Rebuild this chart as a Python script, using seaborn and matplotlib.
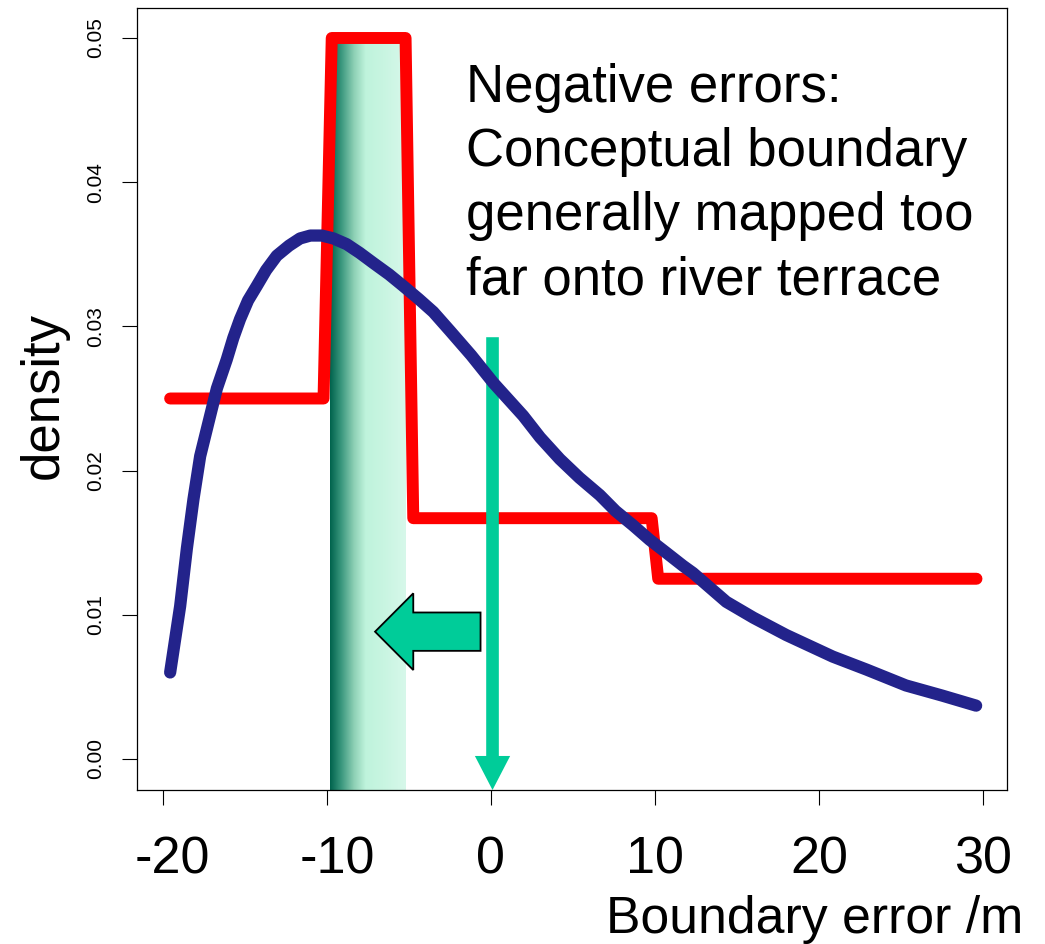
import numpy as np
import pandas as pd
import matplotlib
matplotlib.use("Agg")
import matplotlib.pyplot as plt
import matplotlib.transforms as mtrans
from matplotlib.colors import LinearSegmentedColormap
import seaborn as sns

# ---------------- data ----------------
blue_x = [-19.55, -18.94, -18.53, -18.13, -17.72, -17.2, -16.7, -16.1, -15.7,
          -15.29, -14.8, -14.27, -13.7, -13.05, -12.3, -11.63, -11.0, -10.31,
          -9.6, -8.79, -8.0, -7.17, -6.2, -5.34, -4.4, -3.51, -2.5, -1.2,
          0.14, 1.97, 3.0, 4.2, 5.4, 6.64, 7.6, 8.67, 9.68, 10.7, 11.71, 12.32,
          14.35, 16.0, 18.0, 20.84, 22.9, 25.3, 27.5, 29.58]
blue_y = [0.0060, 0.0106, 0.0146, 0.0180, 0.0210, 0.0234, 0.0257, 0.0277, 0.0292,
          0.0305, 0.0318, 0.0328, 0.0339, 0.0349, 0.0356, 0.0361, 0.0363, 0.0363,
          0.0361, 0.0357, 0.0351, 0.0344, 0.0336, 0.0328, 0.0319, 0.0310, 0.0297,
          0.0280, 0.0261, 0.0238, 0.0223, 0.0208, 0.0195, 0.0183, 0.0172, 0.0162,
          0.0152, 0.0143, 0.0134, 0.0129, 0.0109, 0.0098, 0.0086, 0.0071, 0.0062,
          0.0051, 0.0044, 0.0037]

red_x = [-19.55, -10.2, -9.7, -5.2, -4.73, 9.8, 10.2, 29.6]
red_y = [0.025, 0.025, 0.05, 0.05, 0.0167, 0.0167, 0.0125, 0.0125]

band_x = [-9.8, -5.18]          # shaded interval
shift_x = [-0.63, -7.06]        # block arrow: tail end -> tip
zero_x = 0.1                    # vertical arrow position
zero_top = 0.02925

x_ticks = [-20, -10, 0, 10, 20, 30]
x_tick_labels = ["-20", "-10", "0", "10", "20", "30"]
y_ticks = [0.00, 0.01, 0.02, 0.03, 0.04, 0.05]
y_tick_labels = ["0.00", "0.01", "0.02", "0.03", "0.04", "0.05"]

x_label = "Boundary error /m"
y_label = "density"
note = ("Negative errors:\nConceptual boundary\n"
        "generally mapped too\nfar onto river terrace")

# ---------------- style ----------------
sns.set_theme(style="white")
plt.rcParams["font.family"] = ["Liberation Sans", "DejaVu Sans"]

W, H = 1045, 944
fig = plt.figure(figsize=(W / 100, H / 100), dpi=100)
ax = fig.add_axes([137 / W, 1 - 790 / H, 870 / W, 782 / H])
XLIM = (-21.57, 31.46)
YLIM = (-0.00215, 0.05208)

# gradient band
band_cmap = LinearSegmentedColormap.from_list(
    "band", [(0.0, "#00634d"), (0.15, "#3b987e"), (0.32, "#8fd1b6"),
             (0.47, "#bff3dc"), (0.7, "#c8f5e1"), (1.0, "#d7f8ea")])
grad = np.linspace(0, 1, 256).reshape(1, -1)
ax.imshow(grad, extent=[band_x[0], band_x[1], YLIM[0], 0.05], aspect="auto",
          cmap=band_cmap, interpolation="bilinear", zorder=1)

# red step density
red_df = pd.DataFrame({"x": red_x, "y": red_y})
sns.lineplot(data=red_df, x="x", y="y", sort=False, estimator=None, ax=ax,
             color="#ff0000", linewidth=8.6, solid_capstyle="round",
             solid_joinstyle="round", zorder=3)

# vertical green arrow at zero
ax.arrow(zero_x, zero_top, 0, YLIM[0] - zero_top, width=0.77, head_width=2.15,
         head_length=0.00236, length_includes_head=True, fc="#00cc99",
         ec="none", zorder=4)

# block arrow pointing left
ax.arrow(shift_x[0], 0.00883, shift_x[1] - shift_x[0], 0, width=0.00266,
         head_width=0.00532, head_length=2.33, length_includes_head=True,
         fc="#00cc99", ec="black", lw=1.3, joinstyle="miter", zorder=4)

# blue smooth density
blue_df = pd.DataFrame({"x": blue_x, "y": blue_y})
sns.lineplot(data=blue_df, x="x", y="y", sort=False, estimator=None, ax=ax,
             color="#23238b", linewidth=8.8, solid_capstyle="round",
             solid_joinstyle="round", zorder=5)

ax.set_xlim(XLIM)
ax.set_ylim(YLIM)

ax.set_xticks(x_ticks)
ax.set_xticklabels(x_tick_labels, fontsize=37.5)
ax.set_yticks(y_ticks)
ax.set_yticklabels(y_tick_labels, fontsize=15, rotation=90, va="center")
ax.tick_params(axis="both", direction="out", length=10.8, width=0.8,
               color="black", labelcolor="black")
ax.tick_params(axis="x", pad=22)
ax.tick_params(axis="y", pad=12)
ax.tick_params(bottom=True, left=True)

# negative labels sit slightly right of their ticks in the reference
for lab in ax.get_xticklabels():
    if lab.get_text().startswith("-"):
        lab.set_transform(lab.get_transform() +
                          mtrans.ScaledTranslation(0.10, 0, fig.dpi_scale_trans))

for s in ax.spines.values():
    s.set_visible(True)
    s.set_color("black")
    s.set_linewidth(0.9)

ax.set_xlabel(x_label, fontsize=37.3, color="black", va="baseline", ha="center")
ax.xaxis.set_label_coords(0.779, -0.183)
ax.set_ylabel(y_label, fontsize=38, color="black", va="baseline", ha="center")
ax.yaxis.set_label_coords(-0.0915, 0.505)

fig.text(466 / W, 1 - 63 / H, note, fontsize=38, ha="left", va="top",
         linespacing=1.36, color="black")

fig.savefig("out.png", dpi=100)
